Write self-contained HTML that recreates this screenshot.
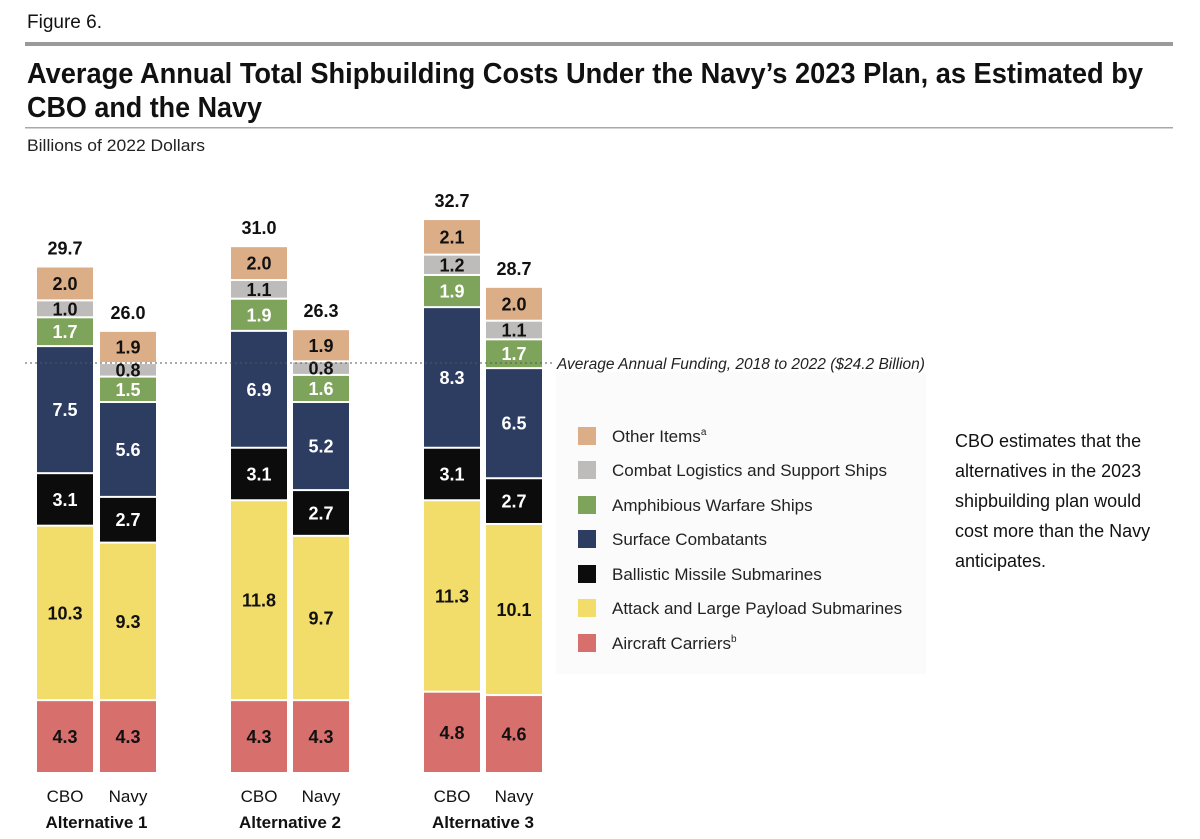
<!DOCTYPE html>
<html><head><meta charset="utf-8"><style>
html,body{margin:0;padding:0;background:#fff;}
svg{display:block;font-family:"Liberation Sans",sans-serif;}
</style></head><body>
<svg id="chart" width="1200" height="839" viewBox="0 0 1200 839" xmlns="http://www.w3.org/2000/svg">
<text x="27" y="28" font-size="19" fill="#111">Figure 6.</text>
<rect x="25" y="42" width="1148" height="4" fill="#9a9a9a"/>
<text x="27" y="83" font-size="29" font-weight="bold" fill="#111" textLength="1116" lengthAdjust="spacingAndGlyphs">Average Annual Total Shipbuilding Costs Under the Navy’s 2023 Plan, as Estimated by</text>
<text x="27" y="117" font-size="29" font-weight="bold" fill="#111" textLength="235" lengthAdjust="spacingAndGlyphs">CBO and the Navy</text>
<rect x="25" y="127" width="1148" height="1.5" fill="#a8a8a8"/>
<text x="27" y="151" font-size="17" fill="#222" textLength="178" lengthAdjust="spacingAndGlyphs">Billions of 2022 Dollars</text>
<rect x="556" y="372" width="370" height="302" fill="#fbfbfc"/>
<g id="bars"></g>
<g id="legend"></g>
<g font-size="18" fill="#111">
<text x="955" y="447">CBO estimates that the</text>
<text x="955" y="477">alternatives in the 2023</text>
<text x="955" y="507">shipbuilding plan would</text>
<text x="955" y="537">cost more than the Navy</text>
<text x="955" y="567">anticipates.</text>
</g>
</svg>
<script>
const categories = ["Other Items","Combat Logistics and Support Ships","Amphibious Warfare Ships","Surface Combatants","Ballistic Missile Submarines","Attack and Large Payload Submarines","Aircraft Carriers"];
const barLabels = ["CBO","Navy","CBO","Navy","CBO","Navy"];
const groupLabels = ["Alternative 1","Alternative 2","Alternative 3"];
// values bottom-to-top: carriers, attack subs, ballistic, surface, amphib, logistics, other
const carriers = [4.3,4.3,4.3,4.3,4.8,4.6];
const attackSubs = [10.3,9.3,11.8,9.7,11.3,10.1];
const ballistic = [3.1,2.7,3.1,2.7,3.1,2.7];
const surface = [7.5,5.6,6.9,5.2,8.3,6.5];
const amphib = [1.7,1.5,1.9,1.6,1.9,1.7];
const logistics = [1.0,0.8,1.1,0.8,1.2,1.1];
const other = [2.0,1.9,2.0,1.9,2.1,2.0];
const totals = [29.7,26.0,31.0,26.3,32.7,28.7];
const avgFunding = 24.2;

const NS="http://www.w3.org/2000/svg";
const svg=document.getElementById('chart');
const gb=document.getElementById('bars');
const gl=document.getElementById('legend');
const base=773, k=16.94;
const y=v=>base-v*k;
const barX=[37,100,231,293,424,486], bw=56;
const stackSeries=[carriers,attackSubs,ballistic,surface,amphib,logistics,other];
const colors=["#d7706d","#f2dc6a","#0c0c0c","#2d3d62","#7ea35a","#bdbcba","#dcae87"];
const textCol=["#111","#111","#fff","#fff","#fff","#111","#111"];
const segNames=["aircraft-carriers","attack-subs","ballistic-subs","surface-combatants","amphibious","logistics","other-items"];
function mk(tag,attrs,parent){const e=document.createElementNS(NS,tag);for(const a in attrs)e.setAttribute(a,attrs[a]);parent.appendChild(e);return e;}

barX.forEach((bx,i)=>{
  let cum=0;
  stackSeries.forEach((s,j)=>{
    const v=s[i];
    const y0=y(cum), y1=y(cum+v);
    const r=mk('rect',{x:bx,y:y1+1,width:bw,height:Math.max(0,y0-y1-2),fill:colors[j]},gb);
    
    
    const t=mk('text',{x:bx+bw/2,y:(y0+y1)/2+6.5,'text-anchor':'middle','font-size':18,'font-weight':'bold',fill:textCol[j]},gb);
    
    
    t.textContent=v.toFixed(1);
    cum+=v;
  });
  const tt=mk('text',{x:bx+bw/2,y:y(cum)-12,'text-anchor':'middle','font-size':18,'font-weight':'bold',fill:'#111'},gb);
  
  
  tt.textContent=totals[i].toFixed(1);
  const xl=mk('text',{x:bx+bw/2,y:802,'text-anchor':'middle','font-size':17,fill:'#111'},gb);
  
  
  xl.textContent=barLabels[i];
});
groupLabels.forEach((g,i)=>{
  const cx=(barX[i*2]+barX[i*2+1]+bw)/2;
  const t=mk('text',{x:cx,y:828,'text-anchor':'middle','font-size':17,'font-weight':'bold',fill:'#111'},gb);
  
  
  t.textContent=g;
});
const ay=y(avgFunding);
const dl=mk('line',{x1:25,x2:553,y1:ay,y2:ay,stroke:'#555','stroke-width':1,'stroke-dasharray':'2,3'},gb);


const dt=mk('text',{x:557,y:ay+6,'font-size':15.5,'font-style':'italic',fill:'#222'},gb);


dt.textContent='Average Annual Funding, 2018 to 2022 ($24.2 Billion)';

const legendY=[436,470,505,539,574,608,643];
categories.forEach((c,i)=>{
  const ci=6-i;
  const r=mk('rect',{x:578,y:legendY[i]-9,width:18,height:18,fill:colors[ci]},gl);
  
  
  const t=mk('text',{x:612,y:legendY[i]+6,'font-size':17,fill:'#222'},gl);
  
  
  t.textContent=c;
  if(i===0||i===6){const s=mk('tspan',{'font-size':10,dy:-7},t);s.textContent=i===0?'a':'b';}
});
</script>
</body></html>
